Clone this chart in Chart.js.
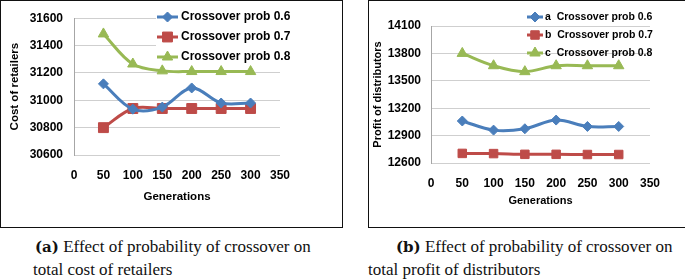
<!DOCTYPE html>
<html>
<head>
<meta charset="utf-8">
<script src="https://cdn.jsdelivr.net/npm/chart.js@4.4.0/dist/chart.umd.min.js"></script>
<style>
    body { margin: 0; background: #fff; width: 685px; height: 280px; position: relative; overflow: hidden; }
    .box { position: absolute; top: 0; height: 226px; border: 1px solid #111; }
    .chart { position: absolute; top: 0; }
    .cap { position: absolute; font-family: "Liberation Serif", "Times New Roman", serif; font-size: 17px; color: #111; white-space: nowrap; line-height: 20px; }
    .cap b { font-family: "DejaVu Serif", serif; font-size: 15px; }
</style>
</head>
<body>
<div class="box" style="left:0;width:341px;"></div>
<div class="box" style="left:368px;width:330px;"></div>
<canvas id="costChart" class="chart" style="left:1px;" width="341" height="228"></canvas>
<canvas id="profitChart" class="chart" style="left:370px;" width="315" height="228"></canvas>
<div class="cap" style="left:35px;top:237px;"><b>(a)</b> Effect of probability of crossover on</div>
<div class="cap" style="left:33px;top:260px;">total cost of retailers</div>
<div class="cap" style="left:396px;top:237px;"><b>(b)</b> Effect of probability of crossover on</div>
<div class="cap" style="left:368px;top:260px;">total profit of distributors</div>
<script>
(function () {
    'use strict';

    // generations on the x axis
    var generations = [50, 100, 150, 200, 250, 300];

    // (a) cost of retailers
    var costProb06 = [31120, 30935, 30950, 31090, 30980, 30980];
    var costProb07 = [30800, 30940, 30940, 30940, 30940, 30940];
    var costProb08 = [31485, 31265, 31215, 31210, 31210, 31210];
    var costNames = ['Crossover prob 0.6', 'Crossover prob 0.7', 'Crossover prob 0.8'];

    // (b) profit of distributors
    var profitProb06 = [13060, 12960, 12975, 13070, 13000, 13000];
    var profitProb07 = [12705, 12703, 12695, 12695, 12693, 12693];
    var profitProb08 = [13800, 13665, 13600, 13665, 13665, 13665];
    var profitNames = ['a  Crossover prob 0.6', 'b  Crossover prob 0.7', 'c  Crossover prob 0.8'];

    var xTicks = [0, 350, 50];
    var costTicks = [30600, 31600, 200];
    var profitTicks = [12600, 14100, 300];

    var FONT = '"Liberation Sans", Arial, sans-serif';
    var BLUE = '#4A7EBB', RED = '#BE4B48', GREEN = '#98B954';

    function points (ys) {
        return ys.map(function (y, i) {
            return { x: generations[i], y: y };
        });
    }

    function series (label, ys, color, style, radius) {
        return {
            label: label,
            data: points(ys),
            showLine: true,
            borderColor: color,
            borderWidth: 3,
            tension: 0.35,
            pointStyle: style,
            pointRadius: radius,
            pointBackgroundColor: color,
            pointBorderColor: color,
            pointBorderWidth: 1
        };
    }

    // legend drawn inside the plot, like the spreadsheet one
    var innerLegend = {
        id: 'innerLegend',
        beforeDatasetsDraw: function (chart, args, opts) {
            if (!opts.background) {
                return;
            }
            var ctx = chart.ctx;
            ctx.save();
            ctx.fillStyle = '#fff';
            ctx.fillRect(opts.background[0], opts.background[1], opts.background[2], opts.background[3]);
            ctx.restore();
        },
        afterDraw: function (chart, args, opts) {
            var ctx = chart.ctx;
            ctx.save();
            chart.data.datasets.forEach(function (ds, i) {
                var y = opts.y + i * opts.step,
                    x0 = opts.x,
                    mid = x0 + opts.sample / 2;
                ctx.strokeStyle = ds.borderColor;
                ctx.lineWidth = 3;
                ctx.beginPath();
                ctx.moveTo(x0, y);
                ctx.lineTo(x0 + opts.sample, y);
                ctx.stroke();
                ctx.fillStyle = ds.pointBackgroundColor;
                ctx.lineWidth = 1;
                Chart.helpers.drawPoint(ctx, {
                    pointStyle: ds.pointStyle,
                    radius: ds.pointRadius,
                    rotation: 0,
                    borderWidth: 1
                }, mid, y);
                ctx.fillStyle = '#000';
                ctx.font = 'bold ' + opts.fontSize + 'px ' + FONT;
                ctx.textBaseline = 'middle';
                ctx.fillText(ds.label, x0 + opts.sample + opts.gap, y);
            });
            ctx.restore();
        }
    };

    function makeChart (id, datasets, yTicks, cfg) {
        return new Chart(document.getElementById(id), {
            type: 'scatter',
            data: { datasets: datasets },
            plugins: [innerLegend],
            options: {
                responsive: false,
                animation: false,
                layout: { padding: { top: cfg.top, right: cfg.right, bottom: 0, left: 0 } },
                plugins: {
                    legend: { display: false },
                    tooltip: { enabled: false },
                    innerLegend: cfg.legend
                },
                scales: {
                    x: {
                        type: 'linear',
                        min: xTicks[0],
                        max: xTicks[1],
                        afterFit: function (scale) { scale.height = cfg.xHeight; },
                        grid: { display: false },
                        border: { display: false },
                        ticks: {
                            stepSize: xTicks[2],
                            padding: cfg.xPad,
                            color: '#000',
                            font: { family: FONT, size: 12, weight: 'bold' },
                            callback: function (v) { return String(v); }
                        },
                        title: {
                            display: true,
                            text: 'Generations',
                            color: '#000',
                            padding: { top: 0, bottom: cfg.xTitlePad },
                            font: { family: FONT, size: cfg.titleSize, weight: 'bold' }
                        }
                    },
                    y: {
                        min: yTicks[0],
                        max: yTicks[1],
                        afterFit: function (scale) { scale.width = cfg.yWidth; },
                        grid: { color: '#CFCFCF', lineWidth: 1, drawTicks: false },
                        border: { display: true, color: '#A6A6A6', width: 1 },
                        ticks: {
                            stepSize: yTicks[2],
                            padding: cfg.yPad,
                            color: '#000',
                            font: { family: FONT, size: 12, weight: 'bold' },
                            callback: function (v) { return String(v); }
                        },
                        title: {
                            display: true,
                            text: cfg.yTitle,
                            color: '#000',
                            padding: { top: cfg.yTitlePad, bottom: 0 },
                            font: { family: FONT, size: cfg.titleSize, weight: 'bold' }
                        }
                    }
                }
            }
        });
    }

    makeChart('costChart', [
        series(costNames[0], costProb06, BLUE, 'rectRot', 5),
        series(costNames[1], costProb07, RED, 'rect', 7),
        series(costNames[2], costProb08, GREEN, 'triangle', 6)
    ], costTicks, {
        top: 10, right: 62, xHeight: 73, xPad: 5, xTitlePad: 24,
        yWidth: 73, yPad: 11, yTitlePad: 7, titleSize: 11.5,
        yTitle: 'Cost of retailers',
        legend: { x: 156, y: 17, step: 20, sample: 21, gap: 3, fontSize: 12,
            background: [155, 11, 135, 52] }
    });

    makeChart('profitChart', [
        series(profitNames[0], profitProb06, BLUE, 'rectRot', 5),
        series(profitNames[1], profitProb07, RED, 'rect', 6),
        series(profitNames[2], profitProb08, GREEN, 'triangle', 6)
    ], profitTicks, {
        top: 26, right: 35, xHeight: 65, xPad: 5, xTitlePad: 20,
        yWidth: 61, yPad: 10, yTitlePad: 1, titleSize: 11,
        yTitle: 'Profit of distributors',
        legend: { x: 157, y: 17, step: 18, sample: 16, gap: 2, fontSize: 10.5,
            background: null }
    });
}());
</script>
</body>
</html>
